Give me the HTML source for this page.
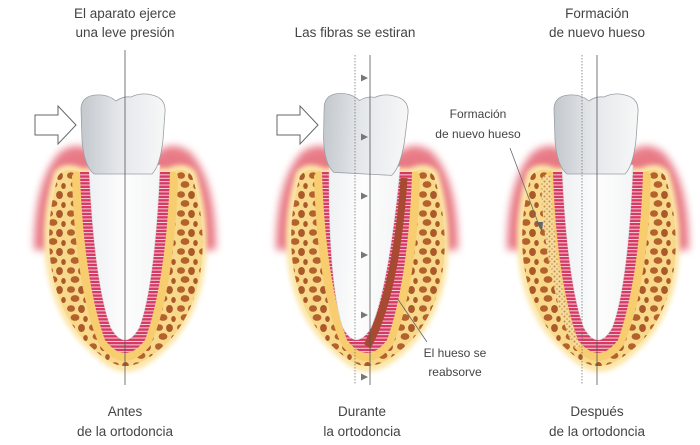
<!DOCTYPE html>
<html><head><meta charset="utf-8"><style>
html,body{margin:0;padding:0;background:#fff;}
svg{display:block;font-family:"Liberation Sans",sans-serif;}
</style></head><body>
<svg width="700" height="445" viewBox="0 0 700 445" xmlns="http://www.w3.org/2000/svg">
<defs>
  <pattern id="bone" width="22" height="19" patternUnits="userSpaceOnUse">
    <rect width="22" height="19" fill="#f8d88a"/>
    <ellipse cx="5" cy="4.5" rx="4" ry="3.3" fill="#b3622d"/>
    <ellipse cx="15.5" cy="5" rx="3.4" ry="4" fill="#a9592a"/>
    <ellipse cx="9" cy="13.5" rx="4.4" ry="3.4" fill="#b3622d"/>
    <ellipse cx="19.5" cy="15" rx="2.3" ry="3" fill="#a9592a"/>
  </pattern>
  <pattern id="newbone" width="5" height="5" patternUnits="userSpaceOnUse">
    <rect width="5" height="5" fill="#f6dc9c"/>
    <circle cx="1.5" cy="1.5" r="1" fill="#c58c4c"/>
    <circle cx="4" cy="4" r="0.8" fill="#c58c4c"/>
  </pattern>
  <pattern id="pdl" width="10" height="3.4" patternUnits="userSpaceOnUse">
    <rect width="10" height="3.4" fill="#d63a62"/>
    <rect y="1" width="10" height="0.9" fill="#f8e2ea"/>
  </pattern>
  <linearGradient id="crown" x1="0" x2="1" y1="0" y2="0">
    <stop offset="0" stop-color="#c3c8cd"/>
    <stop offset="0.45" stop-color="#e4e7ea"/>
    <stop offset="1" stop-color="#f7f7f7"/>
  </linearGradient>
  <linearGradient id="rootg" x1="0" x2="1">
    <stop offset="0" stop-color="#eef0f2"/>
    <stop offset="0.5" stop-color="#fdfdfd"/>
    <stop offset="1" stop-color="#f4f5f6"/>
  </linearGradient>
  <filter id="blur"><feGaussianBlur stdDeviation="4"/></filter>
  <filter id="glow"><feGaussianBlur stdDeviation="2.5"/></filter>
  <g id="base">
    <path d="M34,250 Q34,180 60,152 Q78,140 92,152 L158,152 Q172,140 190,152 Q216,180 216,250 Z" fill="#e35a69" filter="url(#blur)" opacity="0.8"/>
    <path d="M54,172 C36,230 40,300 82,344 C102,364 113,372 125,372 C139,372 152,364 172,344 C212,300 214,230 196,172 Q186,160 168,168 L82,168 Q64,160 54,172Z" fill="#fce6a8" filter="url(#glow)"/>
    <path d="M58,176 C42,232 46,298 84,340 C103,359 114,366 125,366 C138,366 150,359 170,340 C207,298 210,232 192,176 Q184,166 172,172 L80,172 Q66,166 58,176Z" fill="url(#bone)"/>
    <path d="M72,176 Q76,168 82,174 C83,245 94,305 108,340 Q125,366 142,340 C156,305 167,245 168,174 Q174,168 178,176 C176,250 166,312 150,346 Q125,376 100,346 C84,312 74,250 72,176Z" fill="#f7cd70"/>
  </g>
  <g id="pdlg">
    <path d="M80,172 L170,172 C168,245 158,305 145,340 Q125,366 105,340 C92,305 82,245 80,172Z" fill="url(#pdl)"/>
  </g>
  <g id="root">
    <path d="M89,165 L160,165 C157,240 150,300 139,328 Q125,352 111,328 C100,300 92,240 89,165Z" fill="url(#rootg)" stroke="#d8dadd" stroke-width="0.6"/>
  </g>
  <g id="crowng">
    <path d="M81,108 Q82,96 96,95 Q108,94 116,101 Q123,96 131,97 Q141,92 152,95 Q166,98 165,112 L163,140 Q160,166 152,174 L94,174 Q84,166 82,140Z" fill="url(#crown)" stroke="#9aa0a6" stroke-width="0.8"/>
  </g>
  <path id="arrow" d="M35,115 L58,115 L58,106 L76,125 L58,144 L58,135 L35,135Z" fill="#fff" stroke="#666" stroke-width="1"/>
  <path id="tri" d="M0,-3.5 L7,0 L0,3.5Z" fill="#777"/>
</defs>

<!-- Tooth 1 -->
<use href="#base"/>
<use href="#pdlg"/>
<use href="#root"/>
<use href="#crowng"/>
<use href="#arrow"/>
<line x1="125" y1="50" x2="125" y2="385" stroke="#555" stroke-width="0.8"/>

<!-- Tooth 2 -->
<g transform="translate(242,0)">
  <use href="#base"/>
  <use href="#pdlg"/>
  <g transform="rotate(3 125 130)">
    <path d="M161,176 L168,176 C167,250 158,312 140,348 L133,344 C150,308 160,250 161,176Z" fill="#a84a32"/>
    <use href="#root"/>
    <use href="#crowng"/>
  </g>
  <use href="#arrow"/>
</g>
<line x1="355" y1="55" x2="355" y2="385" stroke="#777" stroke-width="0.8" stroke-dasharray="1.5,1.5"/>
<line x1="370" y1="55" x2="370" y2="385" stroke="#555" stroke-width="0.8"/>
<use href="#tri" x="361" y="78"/>
<use href="#tri" x="361" y="137"/>
<use href="#tri" x="361" y="196"/>
<use href="#tri" x="361" y="255"/>
<use href="#tri" x="361" y="315"/>
<use href="#tri" x="361" y="377"/>
<line x1="427" y1="342" x2="397" y2="298" stroke="#666" stroke-width="0.8"/>
<text x="455" y="357" font-size="12" fill="#444" text-anchor="middle">El hueso se</text>
<text x="455" y="376" font-size="12" fill="#444" text-anchor="middle">reabsorve</text>

<!-- Tooth 3 -->
<g transform="translate(473,0)">
  <use href="#base"/>
  <path d="M68,180 Q72,172 78,176 C80,250 92,312 108,346 L102,348 C84,314 70,252 68,180Z" fill="url(#newbone)"/>
  <use href="#pdlg"/>
  <use href="#root"/>
  <use href="#crowng"/>
</g>
<line x1="582" y1="55" x2="582" y2="385" stroke="#777" stroke-width="0.8" stroke-dasharray="1.5,1.5"/>
<line x1="597" y1="55" x2="597" y2="385" stroke="#555" stroke-width="0.8"/>
<line x1="510" y1="148" x2="540" y2="228" stroke="#666" stroke-width="0.8"/>
<path d="M536,222 L542,232 L543,222Z" fill="#666"/>
<text x="478" y="118" font-size="12" fill="#444" text-anchor="middle">Formación</text>
<text x="478" y="138" font-size="12" fill="#444" text-anchor="middle">de nuevo hueso</text>

<!-- Titles -->
<g font-size="13.5" fill="#444" text-anchor="middle">
  <text x="125" y="18">El aparato ejerce</text>
  <text x="125" y="37">una leve presión</text>
  <text x="355" y="37">Las fibras se estiran</text>
  <text x="597" y="18">Formación</text>
  <text x="597" y="37">de nuevo hueso</text>
  <text x="125" y="416">Antes</text>
  <text x="125" y="436">de la ortodoncia</text>
  <text x="362" y="416">Durante</text>
  <text x="362" y="436">la ortodoncia</text>
  <text x="597" y="416">Después</text>
  <text x="597" y="436">de la ortodoncia</text>
</g>
</svg>
</body></html>
